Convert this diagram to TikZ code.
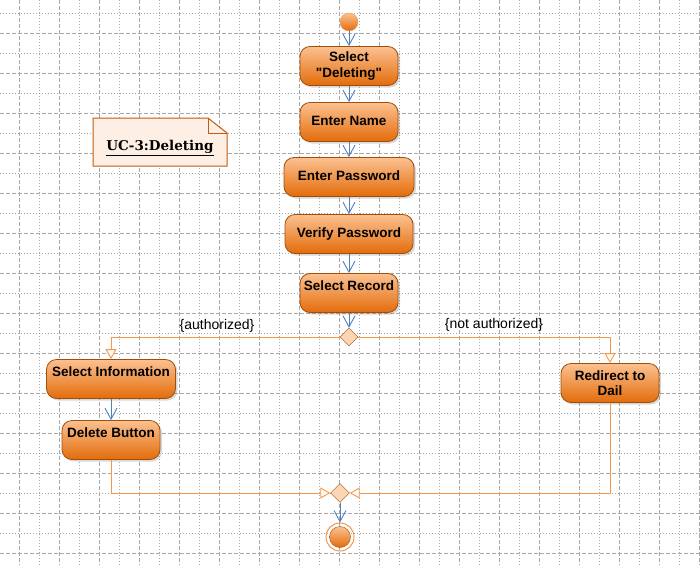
\documentclass[tikz,border=0pt]{standalone}
\usepackage{fontspec}
\setmainfont{Liberation Sans}[Ligatures=TeXOff]
\newfontfamily\notefont{DejaVu Serif}
\usetikzlibrary{arrows.meta}
\usetikzlibrary{shapes.geometric}
\usetikzlibrary{shadows}

\definecolor{acttop}{HTML}{FBC191}
\definecolor{actbot}{HTML}{E36C0A}
\definecolor{actline}{HTML}{A24E07}
\definecolor{flowblue}{HTML}{4F81BD}
\definecolor{branchline}{HTML}{F79646}
\definecolor{gridgray}{HTML}{A8A8A8}
\definecolor{notefill}{HTML}{FDEFE4}
\definecolor{noteline}{HTML}{C55A11}
\definecolor{decfill}{HTML}{FCD5B4}

\begin{document}
\begin{tikzpicture}[x=1pt,y=-1pt,
    act/.style={draw=actline, line width=0.8pt, rounded corners=10pt, top color=acttop, bottom color=actbot,
        drop shadow={shadow xshift=2pt,shadow yshift=-2pt,opacity=0.3},
        minimum width=98pt, minimum height=39pt, inner sep=2pt, align=center,
        font=\fontsize{13.5}{15.5}\selectfont\bfseries},
    midtext/.style={text height=10pt, text depth=4pt},
    hightext/.style={text height=10pt, text depth=16pt},
    decision/.style={diamond, draw=actline, fill=decfill, minimum width=18pt, minimum height=18pt, inner sep=0pt},
    flow/.style={draw=flowblue, line width=0.9pt, -{Straight Barb[length=11pt,width=12pt]}},
    branch/.style={draw=branchline, line width=0.9pt, -{Triangle[open,length=10pt,width=11pt,fill=white]}},
    guard/.style={font=\fontsize{14}{16}\selectfont}]

    % page and grid
    \fill[white] (0,0) rectangle (700,565);
    \useasboundingbox (0,0) rectangle (700,565);
    \foreach \gx in {19,59,...,699}
        \draw[gridgray, line width=1pt, dash pattern=on 4pt off 2pt] (\gx,0) -- (\gx,565);
    \foreach \gx in {39,79,...,679}
        \draw[gridgray, line width=1pt, dash pattern=on 1pt off 2pt] (\gx,0) -- (\gx,565);
    \foreach \gy in {33,73,...,553}
        \draw[gridgray, line width=1pt, dash pattern=on 4pt off 2pt] (0,\gy) -- (700,\gy);
    \foreach \gy in {13,53,...,533}
        \draw[gridgray, line width=1pt, dash pattern=on 1pt off 2pt] (0,\gy) -- (700,\gy);

    % note
    \draw[noteline, line width=1pt, fill=notefill] (93,118) -- (208,118) -- (227,133) -- (227,166) -- (93,166) -- cycle;
    \draw[noteline, line width=1pt] (208,118) -- (208,133) -- (227,133);
    \node (ucname) at (160,148) {\notefont\fontsize{13.5}{15}\selectfont\bfseries\underline{UC-3:Deleting}};

    % start node
    \node[circle, draw=branchline, top color=acttop, bottom color=actbot, minimum size=18pt, inner sep=0pt] (start) at (349,22) {};

    % main flow
    \node[act] (seldel) at (349,66) {Select\\"Deleting"};
    \node[act, midtext] (name) at (349,122) {Enter Name};
    \node[act, midtext, minimum width=130pt] (pass) at (349,177) {Enter Password};
    \node[act, midtext, minimum width=128pt] (verify) at (349,234) {Verify Password};
    \node[act, hightext] (record) at (349,293) {Select Record};
    \node[decision] (dec) at (349,337) {};

    % branches
    \node[act, hightext, minimum width=129pt] (info) at (111,379) {Select Information};
    \node[act, hightext] (delbtn) at (111,440) {Delete Button};
    \node[act] (redirect) at (610,383) {Redirect to\\Dail};
    \node[guard] (auth) at (217,326) {\{authorized\}};
    \node[guard] (notauth) at (494,325) {\{not authorized\}};

    % merge and end
    \node[decision, minimum width=19pt, minimum height=19pt] (merge) at (340,493) {};
    \node[circle, draw=branchline, line width=1pt, minimum size=28pt, inner sep=0pt] (final) at (340,537) {};
    \node[circle, draw=actline, top color=acttop, bottom color=actbot, minimum size=21pt, inner sep=0pt] (finalin) at (final) {};

    % transitions
    \draw[flow] (start) -- (seldel);
    \draw[flow] (seldel) -- (name);
    \draw[flow] (name) -- (pass);
    \draw[flow] (pass) -- (verify);
    \draw[flow] (verify) -- (record);
    \draw[flow] (record) -- (dec);
    \draw[branch] (dec.west) -| (info.north);
    \draw[branch] (dec.east) -| (redirect.north);
    \draw[flow] (info) -- (delbtn);
    \draw[branch] (delbtn.south) |- (merge.west);
    \draw[branch] (redirect.south) |- (merge.east);
    \draw[flow] (merge) -- (final);
\end{tikzpicture}
\end{document}
